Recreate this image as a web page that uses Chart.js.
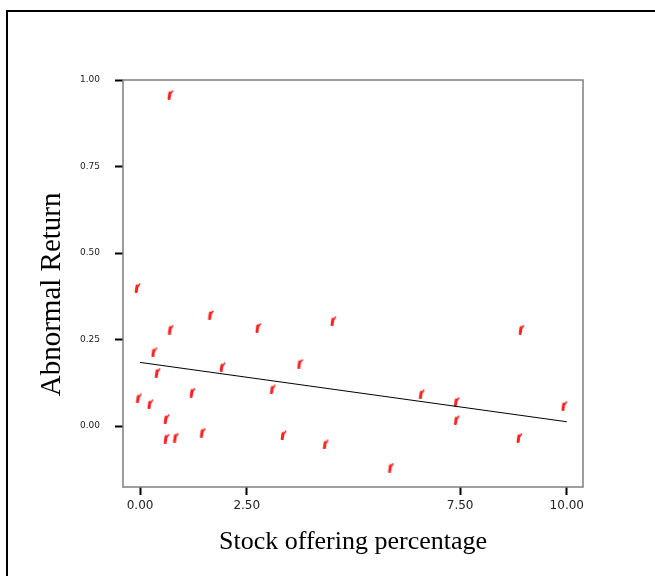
<!DOCTYPE html>
<html>
<head>
<meta charset="utf-8">
<script src="https://cdn.jsdelivr.net/npm/chart.js@4"></script>
<style>
  html, body { margin: 0; padding: 0; background: #fff; }
  #wrap { position: relative; width: 655px; height: 576px; overflow: hidden; }
  #frame { position: absolute; left: 6px; top: 10px; width: 720px; height: 640px;
           border-left: 2px solid #000; border-top: 2px solid #000; }
  canvas { position: absolute; left: 0; top: 0; }
</style>
</head>
<body>
<div id="wrap">
  <div id="frame"></div>
  <canvas id="chart" width="655" height="576"></canvas>
</div>
<script>
// scatter: stock offering percentage vs abnormal return
const offeringPct = [
  0.71, -0.06, 1.66, 0.72, 2.77, 0.33, 1.93, 0.41, 3.75,
  -0.03, 0.24, 1.23, 0.62, 0.62, 0.84, 1.47, 3.11, 3.36,
  4.53, 6.60, 7.42, 7.42, 4.35, 5.88, 8.94, 9.94, 8.89
];
const abnormalReturn = [
  0.957, 0.399, 0.321, 0.279, 0.284, 0.213, 0.170, 0.154, 0.180,
  0.080, 0.063, 0.097, 0.020, -0.036, -0.033, -0.019, 0.106, -0.027,
  0.303, 0.092, 0.070, 0.017, -0.053, -0.120, 0.279, 0.058, -0.034
];

// fitted regression line end points
const fitX = [0, 10];
const fitY = [0.184, 0.0125];

const xTickValues = [0, 2.5, 7.5, 10];
const yTickValues = [0, 0.25, 0.5, 0.75, 1];

function makeMarker() {
  const c = document.createElement('canvas');
  c.width = 7;
  c.height = 10;
  const g = c.getContext('2d');
  g.strokeStyle = '#ff2020';
  g.lineCap = 'round';
  g.lineWidth = 3;
  g.beginPath();
  g.moveTo(2.2, 8.5);
  g.lineTo(3, 3);
  g.stroke();
  g.lineWidth = 1.6;
  g.beginPath();
  g.moveTo(3.4, 3.6);
  g.lineTo(5.6, 1.2);
  g.stroke();
  return c;
}

const plotBox = {
  id: 'plotBox',
  beforeDatasetsDraw(chart) {
    const { ctx, chartArea: a } = chart;
    ctx.save();
    ctx.strokeStyle = '#7f7f7f';
    ctx.lineWidth = 1.5;
    ctx.strokeRect(a.left, a.top, a.right - a.left, a.bottom - a.top);
    ctx.restore();
  },
};

const points = offeringPct.map((x, i) => ({ x, y: abnormalReturn[i] }));
const fitLine = fitX.map((x, i) => ({ x, y: fitY[i] }));

new Chart(document.getElementById('chart'), {
  type: 'scatter',
  data: {
    datasets: [
      {
        data: fitLine,
        showLine: true,
        borderColor: '#000',
        borderWidth: 1,
        pointRadius: 0,
      },
      {
        data: points,
        pointStyle: makeMarker(),
        pointRadius: 4,
      },
    ],
  },
  options: {
    responsive: false,
    animation: false,
    layout: { padding: { top: 80, right: 72, left: 0, bottom: 0 } },
    plugins: {
      legend: { display: false },
      tooltip: { enabled: false },
    },
    scales: {
      x: {
        type: 'linear',
        min: -0.4,
        max: 10.38,
        afterBuildTicks: (scale) => {
          scale.ticks = xTickValues.map((v) => ({ value: v }));
        },
        afterFit: (scale) => {
          scale.height = 89;
        },
        border: { display: false },
        grid: {
          drawOnChartArea: false,
          tickLength: 8,
          tickWidth: 2,
          tickColor: '#000',
        },
        ticks: {
          padding: 4,
          color: '#222',
          font: { family: 'DejaVu Sans', size: 12 },
          callback: (v) => Number(v).toFixed(2),
        },
        title: {
          display: true,
          text: 'Stock offering percentage',
          color: '#000',
          font: { family: 'Liberation Serif', size: 26 },
          padding: { top: 0, bottom: 18 },
        },
      },
      y: {
        type: 'linear',
        min: -0.176,
        max: 1.0,
        afterBuildTicks: (scale) => {
          scale.ticks = yTickValues.map((v) => ({ value: v }));
        },
        afterFit: (scale) => {
          scale.width = 123;
        },
        border: { display: false },
        grid: {
          drawOnChartArea: false,
          tickLength: 8,
          tickWidth: 2,
          tickColor: '#000',
        },
        ticks: {
          padding: 15,
          color: '#222',
          font: { family: 'DejaVu Sans', size: 9 },
          callback: (v) => Number(v).toFixed(2),
        },
        title: {
          display: true,
          // trailing spaces nudge the centred title down a little
          text: 'Abnormal Return   ',
          color: '#000',
          font: { family: 'Liberation Serif', size: 29 },
          padding: { top: 35, bottom: 0 },
        },
      },
    },
  },
  plugins: [plotBox],
});
</script>
</body>
</html>
